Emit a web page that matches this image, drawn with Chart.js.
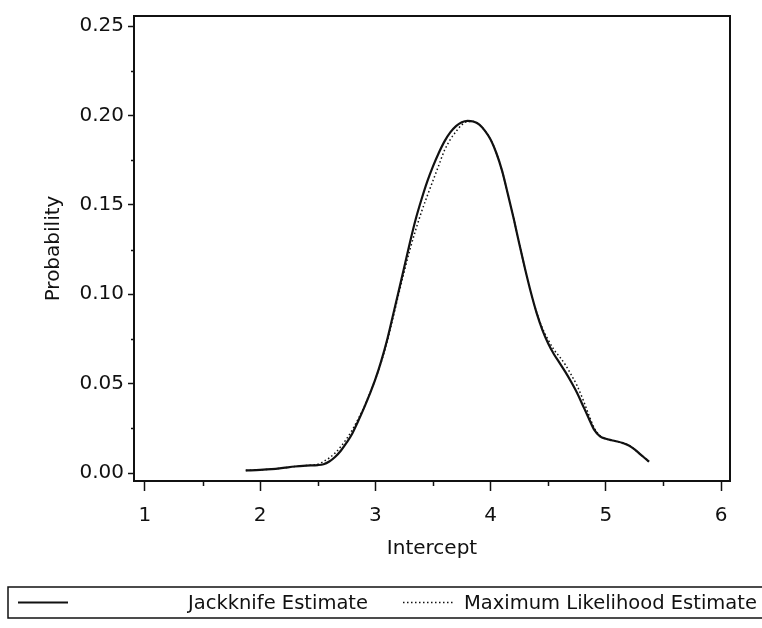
<!DOCTYPE html>
<html>
<head>
<meta charset="utf-8">
<script src="https://cdn.jsdelivr.net/npm/chart.js@4/dist/chart.umd.min.js"></script>
<style>
  html, body { margin: 0; padding: 0; background: #fff; }
  #wrap { width: 762px; height: 628px; position: relative; }
</style>
</head>
<body>
<div id="wrap"><canvas id="c" width="762" height="628"></canvas></div>
<script>
// ---- data ----
const xValues = [1.875, 2.0, 2.1, 2.2, 2.3, 2.4, 2.5, 2.55, 2.6, 2.65, 2.7, 2.75, 2.8, 2.85, 2.9, 2.95,
  3.0, 3.05, 3.1, 3.15, 3.2, 3.25, 3.3, 3.35, 3.4, 3.45, 3.5, 3.55, 3.6, 3.65, 3.7, 3.75, 3.8, 3.85, 3.9, 3.95,
  4.0, 4.05, 4.1, 4.15, 4.2, 4.25, 4.3, 4.35, 4.4, 4.45, 4.5, 4.55, 4.6, 4.65, 4.7, 4.75, 4.8, 4.85, 4.9, 4.95,
  5.0, 5.05, 5.1, 5.15, 5.2, 5.25, 5.3, 5.35, 5.375];
const jackknife = [0.0015, 0.0018, 0.0022, 0.0029, 0.0037, 0.0042, 0.0045, 0.0050, 0.0065, 0.0090, 0.0125, 0.0170, 0.0222, 0.0290, 0.0362, 0.0440,
  0.0525, 0.0625, 0.0740, 0.0875, 0.1012, 0.1150, 0.1290, 0.1420, 0.1530, 0.1630, 0.1715, 0.1790, 0.1855, 0.1905, 0.1940, 0.1962, 0.1970, 0.1966, 0.1950, 0.1915,
  0.1865, 0.1790, 0.1690, 0.1560, 0.1425, 0.1280, 0.1140, 0.1010, 0.0895, 0.0800, 0.0725, 0.0665, 0.0615, 0.0565, 0.0510, 0.0450, 0.0380, 0.0310, 0.0242, 0.0206,
  0.0192, 0.0184, 0.0177, 0.0168, 0.0155, 0.0133, 0.0105, 0.0078, 0.0064];
const mle = [0.0015, 0.0018, 0.0022, 0.0029, 0.0037, 0.0042, 0.0050, 0.0065, 0.0085, 0.0112, 0.0148, 0.0192, 0.0242, 0.0302, 0.0367, 0.0443,
  0.0525, 0.0620, 0.0730, 0.0860, 0.0995, 0.1125, 0.1250, 0.1360, 0.1460, 0.1550, 0.1635, 0.1720, 0.1805, 0.1865, 0.1910, 0.1947, 0.1966, 0.1966, 0.1950, 0.1915,
  0.1865, 0.1790, 0.1690, 0.1560, 0.1425, 0.1280, 0.1140, 0.1010, 0.0898, 0.0810, 0.0745, 0.0690, 0.0650, 0.0605, 0.0550, 0.0490, 0.0415, 0.0330, 0.0252, 0.0209,
  0.0192, 0.0184, 0.0177, 0.0168, 0.0155, 0.0133, 0.0105, 0.0078, 0.0064];
const seriesLabels = ['Jackknife Estimate', 'Maximum Likelihood Estimate'];
const xMajorTicks = [1, 2, 3, 4, 5, 6];
const xMinorTicks = [1.5, 2.5, 3.5, 4.5, 5.5];
const yMajorTicks = [0.00, 0.05, 0.10, 0.15, 0.20, 0.25];
const yMinorTicks = [0.025, 0.075, 0.125, 0.175, 0.225];
const xTitle = 'Intercept';
const yTitle = 'Probability';

const FONT = 'DejaVu Sans';
const FSIZE = 20;
const INK = '#111';

const framePlugin = {
  id: 'frame',
  afterDraw(chart) {
    const {ctx, chartArea: a, scales: {x, y}} = chart;
    ctx.save();
    ctx.strokeStyle = INK;
    ctx.lineWidth = 2;
    ctx.strokeRect(a.left, a.top, a.right - a.left, a.bottom - a.top);
    // minor ticks
    ctx.lineWidth = 1.5;
    ctx.beginPath();
    xMinorTicks.forEach(v => {
      const px = Math.round(x.getPixelForValue(v)) + 0.5;
      ctx.moveTo(px, a.bottom); ctx.lineTo(px, a.bottom + 5);
    });
    yMinorTicks.forEach(v => {
      const py = Math.round(y.getPixelForValue(v)) + 0.5;
      ctx.moveTo(a.left, py); ctx.lineTo(a.left - 3, py);
    });
    ctx.stroke();
    // legend
    const ds = chart.data.datasets;
    const top = 587, bottom = 618, mid = (top + bottom) / 2;
    ctx.lineWidth = 1.5;
    ctx.strokeRect(8, top, 762, bottom - top);
    ctx.font = '19.5px "' + FONT + '"';
    ctx.fillStyle = INK;
    ctx.textBaseline = 'middle';
    ctx.textAlign = 'left';
    const items = [
      {x0: 18, x1: 68, tx: 188},
      {x0: 403, x1: 455, tx: 464}
    ];
    items.forEach((it, i) => {
      ctx.save();
      ctx.lineWidth = ds[i].borderWidth;
      ctx.setLineDash(ds[i].borderDash || []);
      ctx.strokeStyle = ds[i].borderColor;
      ctx.beginPath();
      ctx.moveTo(it.x0, mid); ctx.lineTo(it.x1, mid);
      ctx.stroke();
      ctx.restore();
      ctx.fillText(ds[i].label, it.tx, mid + 1);
    });
    ctx.restore();
  }
};

new Chart(document.getElementById('c'), {
  type: 'scatter',
  data: {
    datasets: [
      {
        label: seriesLabels[0],
        data: xValues.map((v, i) => ({x: v, y: jackknife[i]})),
        showLine: true, borderColor: INK, borderWidth: 2.2, pointRadius: 0,
        cubicInterpolationMode: 'monotone', borderDash: []
      },
      {
        label: seriesLabels[1],
        data: xValues.map((v, i) => ({x: v, y: mle[i]})),
        showLine: true, borderColor: INK, borderWidth: 1.5, pointRadius: 0,
        cubicInterpolationMode: 'monotone', borderDash: [1.5, 2.5]
      }
    ]
  },
  options: {
    responsive: false,
    animation: false,
    layout: { padding: { left: 0, right: 32, top: 14, bottom: 57 } },
    plugins: { legend: { display: false }, tooltip: { enabled: false } },
    scales: {
      x: {
        type: 'linear', min: 0.905, max: 6.078,
        afterBuildTicks: s => { s.ticks = xMajorTicks.map(v => ({value: v})); },
        afterFit: s => { s.height = 90; },
        ticks: { color: INK, font: { family: FONT, size: FSIZE }, padding: 13, maxRotation: 0,
                 callback: v => String(v) },
        grid: { drawOnChartArea: false, drawTicks: true, tickLength: 10, tickWidth: 1.5, color: INK },
        border: { display: false },
        title: { display: true, text: xTitle, color: INK, font: { family: FONT, size: FSIZE },
                 padding: { top: 0, bottom: 10 } }
      },
      y: {
        type: 'linear', min: -0.0044, max: 0.2556,
        afterBuildTicks: s => { s.ticks = yMajorTicks.map(v => ({value: v})); },
        afterFit: s => { s.width = 134; },
        ticks: { color: INK, font: { family: FONT, size: FSIZE }, padding: 4,
                 callback: v => Number(v).toFixed(2) },
        grid: { drawOnChartArea: false, drawTicks: true, tickLength: 6, tickWidth: 1.5, color: INK },
        border: { display: false },
        title: { display: true, text: yTitle, color: INK, font: { family: FONT, size: FSIZE },
                 padding: { top: 42, bottom: 0 } }
      }
    }
  },
  plugins: [framePlugin]
});
</script>
</body>
</html>
